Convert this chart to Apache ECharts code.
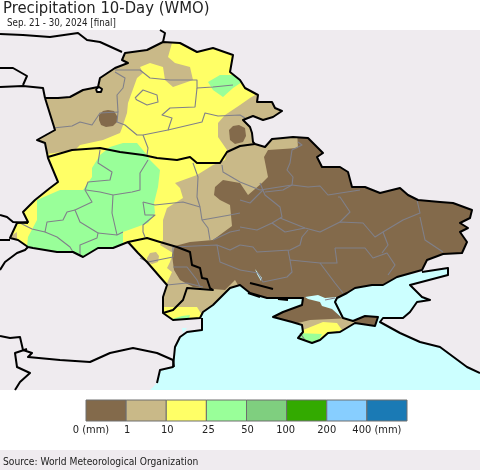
<!DOCTYPE html>
<html><head><meta charset="utf-8">
<style>html,body{margin:0;padding:0;background:#fff}#c{width:480px;height:470px}</style>
<script src="https://cdn.jsdelivr.net/npm/echarts@6/dist/echarts.min.js"></script>
</head><body><div id="c"></div>
<script>
const titleText='Precipitation 10-Day (WMO)';
const subtitleText='Sep. 21 - 30, 2024 [final]';
const sourceText='Source: World Meteorological Organization';
const binColors=['#836A4B','#C9B988','#FFFF66','#99FF99','#7FCF7F','#33AA00','#87CEFF','#1A7AB5'];
const tickLabels=['0 (mm)','1','10','25','50','100','200','400 (mm)'];
const tickShift=[5,1,1,2,1,-1,0,10];

const outlineNorth=[[45,98],[58,98],[70,97],[83,90],[98,87],[100,78],[115,68],[128,63],[122,60],[125,53],[147,50],[163,42],[180,43],[197,52],[213,48],[233,55],[230,72],[240,80],[245,88],[258,95],[257,102],[272,102],[275,108],[282,111],[273,117],[263,120],[253,116],[243,120],[250,127],[252,133],[253,142],[255,144],[265,147],[272,139],[283,138],[293,137],[308,138],[317,147],[323,153],[317,157],[322,167],[340,167],[348,172],[352,187],[365,187],[380,193],[400,188],[408,195],[418,200],[440,202],[453,203],[472,210],[470,218],[460,223],[468,228],[460,232],[467,242],[462,253],[443,254],[427,260],[422,270]];
const coastSouth=[[397,277],[383,285],[372,285],[355,288],[347,293],[337,298],[335,302],[343,318],[353,321],[365,316],[378,317],[375,326],[355,323],[340,332],[328,333],[320,340],[312,343],[298,338],[303,332],[302,325],[292,322],[273,317],[283,312],[302,305],[303,298],[283,298],[267,298],[250,293],[240,285],[230,288],[213,305],[203,312],[200,318]];
const outlineSouthWest=[[173,320],[163,313],[163,297],[167,285],[160,277],[147,262],[138,253],[128,242],[113,248],[98,248],[83,257],[73,252],[57,252],[33,248],[28,247],[18,240],[10,238],[17,223],[28,222],[23,212],[35,200],[50,188],[58,182],[48,158],[45,143],[37,140],[55,130]];
const seaWest=[[480,390],[150,390],[157,383],[160,370],[173,367],[175,347],[180,337],[187,332],[202,330],[202,318]];
const seaEast=[[422,272],[448,268],[448,275],[410,285],[422,297],[430,300],[417,302],[410,312],[403,318],[383,318],[380,322],[400,333],[420,342],[440,347],[467,367],[480,373]];

const zoneYellowMain=[[172,30],[172,43],[168,57],[175,63],[190,67],[193,80],[173,87],[165,80],[163,67],[150,63],[140,67],[143,73],[137,78],[128,103],[127,113],[122,128],[120,133],[103,140],[80,145],[75,150],[40,155],[40,165],[0,200],[0,260],[130,260],[165,290],[167,283],[172,272],[167,268],[170,262],[173,253],[160,245],[163,240],[163,220],[167,208],[183,198],[180,188],[175,183],[197,175],[213,165],[225,160],[227,150],[218,137],[218,123],[225,115],[240,105],[250,98],[257,94],[262,30]];
const zoneTanTip=[[5,240],[17,232],[17,242]];
const zoneTanMoldova=[[147,258],[150,253],[156,252],[159,256],[158,262],[152,264],[147,262]];
const zoneYellowSouth=[[155,307],[178,307],[197,307],[205,320],[165,325]];
const zoneGreenSouth=[[172,319],[182,316],[190,315],[187,325],[175,325]];
const zoneGreenMain=[[110,147],[123,143],[137,143],[147,155],[150,160],[160,170],[158,187],[154,203],[155,213],[148,223],[123,232],[123,245],[100,262],[27,255],[27,247],[28,237],[37,220],[37,200],[60,190],[83,190],[92,177],[92,168],[100,155]];
const zoneGreenBelarus=[[208,82],[220,75],[233,75],[245,80],[233,88],[223,97],[213,90]];
const zoneBrownMain=[[297,130],[298,148],[268,150],[264,157],[268,177],[262,183],[248,195],[240,183],[223,180],[215,187],[214,195],[220,200],[230,205],[232,226],[213,240],[190,242],[175,246],[172,255],[174,270],[180,280],[193,287],[213,289],[225,290],[235,280],[300,390],[480,390],[480,130]];
const zoneBrownWestBlob=[[99,115],[103,111],[108,110],[114,111],[117,116],[117,122],[113,126],[106,127],[101,125],[99,120]];
const zoneBrownEastBlob=[[229,130],[233,126],[239,125],[245,128],[246,136],[243,142],[235,144],[230,140]];
const zoneCrimeaTan=[[298,323],[310,320],[353,318],[355,325],[320,348],[292,345]];
const zoneCrimeaYellow=[[298,332],[323,322],[337,323],[342,330],[325,335],[312,348],[296,346]];
const zoneCrimeaGreen=[[296,333],[322,334],[315,348],[292,346]];
const waterSivash=[[305,297],[318,295],[325,298],[337,297],[335,303],[342,318],[332,309],[322,306],[320,302],[308,299]];
const waterEstuary=[[255,269],[262,278],[261,281],[257,274]];
const waterLake=[[182,328],[187,328],[183,333]];

const borderBelarusUkraine=[[48,157],[72,150],[100,148],[120,152],[143,155],[157,158],[177,160],[190,157],[197,163],[220,163],[227,152],[240,146],[255,144]];
const borderMoldova=[[128,242],[147,238],[160,242],[177,247],[190,252],[192,265],[200,268],[202,278],[207,279],[210,288],[213,290],[187,288],[183,300],[173,310],[163,313]];
const borderPoland=[[0,34],[23,35],[50,37],[78,33],[87,40],[100,42],[122,52]];
const borderLatvia=[[160,30],[165,33],[163,42]];
const borderSlovakiaNorth=[[0,87],[23,86],[43,88],[45,98]];
const borderCzech=[[0,68],[13,68],[27,76],[23,85]];
const borderRomaniaHungary=[[0,270],[5,262],[17,253],[25,250],[28,247]];
const borderHungaryA=[[0,240],[10,240]];
const borderHungaryB=[[0,215],[7,217],[13,222],[28,223]];
const borderBulgaria=[[0,336],[10,338],[20,337],[23,350],[32,353],[28,357],[60,360],[90,362],[110,353],[133,348],[157,353],[173,360],[174,367]];
const borderSerbia=[[27,349],[15,353],[17,367],[30,373],[20,382],[15,390]];
const spitA=[[250,283],[258,285],[273,289]];
const spitB=[[248,293],[260,297]];
const spitC=[[278,299],[288,300]];
const borderRing=[[96,89],[99,87],[102,89],[101,92],[97,92],[96,89]];

const regionLines=[
[[115,70],[140,70],[150,78],[170,80],[197,80],[197,88],[213,87],[233,85]],
[[115,72],[125,78],[123,88],[117,95],[118,112]],
[[53,128],[72,126],[80,122],[92,125],[100,113],[118,112],[117,122],[125,125],[137,135],[143,135],[168,130],[172,118],[162,115],[170,108],[195,107],[197,88]],
[[135,98],[143,90],[157,95],[158,102],[147,105],[137,100],[135,98]],
[[168,130],[202,122],[205,113],[218,116],[240,115],[245,118]],
[[143,135],[148,148],[147,155]],
[[100,150],[98,163],[112,172],[110,180],[88,182],[85,190],[92,202],[75,210],[80,222],[98,233],[97,238],[80,245],[80,255]],
[[148,160],[140,173],[140,190],[132,192],[113,195],[112,213],[117,235],[123,232]],
[[86,190],[100,192],[113,195]],
[[193,163],[198,177],[197,197],[200,207],[202,220],[208,228],[210,240]],
[[222,165],[223,172],[240,182],[260,190],[292,185],[293,177],[287,170],[290,163],[292,150],[302,145],[298,142]],
[[75,210],[67,212],[63,220],[47,222],[45,232],[32,229],[20,223]],
[[45,232],[57,237],[70,247],[73,252]],
[[98,233],[117,235]],
[[143,202],[155,205],[183,202],[200,207]],
[[143,202],[145,215],[155,215],[143,225],[143,232],[145,237]],
[[202,220],[230,215],[240,213]],
[[213,240],[230,232],[240,230]],
[[173,247],[217,245],[230,250],[240,245]],
[[217,245],[220,262],[240,270]],
[[140,258],[148,262],[173,257],[173,247]],
[[173,267],[187,267],[197,280],[200,287]],
[[167,285],[187,283],[203,287]],
[[292,185],[308,187],[320,186],[328,195],[347,192],[360,190]],
[[260,183],[265,195],[280,207],[282,217],[272,223],[257,230],[240,227]],
[[265,192],[283,190],[292,185]],
[[338,197],[340,197],[350,212],[340,222]],
[[280,218],[305,228],[320,232],[340,222],[363,223],[375,237],[383,232],[403,220],[420,213],[417,200]],
[[272,223],[285,232],[305,228]],
[[308,230],[302,237],[300,245],[290,250],[257,252],[253,247],[240,245]],
[[335,248],[337,263],[320,263],[290,260],[292,272],[287,277],[263,282],[258,273],[240,270]],
[[335,248],[365,248],[373,258],[387,253],[395,265],[388,275]],
[[383,232],[388,245],[382,253]],
[[420,217],[425,240],[443,252]],
[[320,263],[335,283],[343,293]],
[[288,250],[290,260]],
[[325,300],[335,298]],
[[240,200],[250,203],[263,190]],
[[300,333],[305,340]]
];

const outline=outlineNorth.concat(coastSouth,outlineSouthWest);
const seaPolygon=seaWest.concat(coastSouth.slice().reverse(),seaEast);
const mapFrame=[[0,30],[480,30],[480,390],[0,390],[0,30]];
const maskPolygon=mapFrame.concat(outline.slice().reverse(),[outline[outline.length-1]],[[0,30]]);

const cBrown=binColors[0],cTan=binColors[1],cYellow=binColors[2],cGreen=binColors[3];
const cLand='#EFEBEF',cSea='#CCFFFF',cRegion='#80808A';
const layers=[
 {p:mapFrame,f:cTan},
 {p:zoneYellowMain,f:cYellow},{p:zoneTanTip,f:cTan},{p:zoneYellowSouth,f:cYellow},{p:zoneGreenSouth,f:cGreen},
 {p:zoneGreenMain,f:cGreen},{p:zoneGreenBelarus,f:cGreen},
 {p:zoneBrownMain,f:cBrown},{p:zoneBrownWestBlob,f:cBrown},{p:zoneBrownEastBlob,f:cBrown},
 {p:zoneTanMoldova,f:cTan},
 {p:zoneCrimeaTan,f:cTan},{p:zoneCrimeaYellow,f:cYellow},{p:zoneCrimeaGreen,f:cGreen},
 {p:maskPolygon,f:cLand},{p:seaPolygon,f:cSea},
 {p:waterSivash,f:cSea},{p:waterEstuary,f:cSea},{p:waterLake,f:cSea},
 {p:borderRing,f:'#fff'}
];
const regionLayers=regionLines.map(p=>({l:p,s:cRegion,w:1.1}));
const blackLines=[outline.concat([outline[0]]),borderBelarusUkraine,borderMoldova,borderPoland,borderLatvia,borderSlovakiaNorth,borderCzech,borderRomaniaHungary,borderHungaryA,borderHungaryB,borderBulgaria,borderSerbia,seaWest.slice(2),seaEast,spitA,spitB,spitC,borderRing];
const blackLayers=blackLines.map(p=>({l:p,s:'#000',w:2}));
const allMarks=layers.concat(regionLayers,blackLayers);

const chart=echarts.init(document.getElementById('c'),null,{renderer:'canvas'});
function renderMark(params,api){
 const m=allMarks[params.dataIndex];
 if(m.p){return {type:'polygon',shape:{points:m.p.map(q=>api.coord(q))},style:{fill:m.f,stroke:null},silent:true};}
 return {type:'polyline',shape:{points:m.l.map(q=>api.coord(q))},style:{fill:null,stroke:m.s,lineWidth:m.w,lineJoin:'round'},silent:true};
}
function renderCell(params,api){
 const i=api.value(0);
 const a=api.coord([i,1]),b=api.coord([i+1,0]);
 return {type:'group',children:[
  {type:'rect',shape:{x:a[0],y:a[1],width:b[0]-a[0],height:b[1]-a[1]},style:{fill:binColors[i],stroke:'#6e6e6e',lineWidth:1}},
  {type:'text',style:{text:tickLabels[i],x:a[0]+tickShift[i],y:b[1]+9,fill:'#222',font:'11px "DejaVu Sans Condensed","DejaVu Sans"',align:'center',verticalAlign:'middle'}}
 ]};
}
chart.setOption({
 animation:false,backgroundColor:'#fff',
 grid:[{left:0,top:0,width:480,height:470},{left:86,top:400,width:321,height:21}],
 xAxis:[{type:'value',gridIndex:0,min:0,max:480,show:false},{type:'value',gridIndex:1,min:0,max:8,show:false}],
 yAxis:[{type:'value',gridIndex:0,min:0,max:470,inverse:true,show:false},{type:'value',gridIndex:1,min:0,max:1,show:false}],
 graphic:[
  {type:'rect',left:0,top:450,shape:{width:480,height:20},style:{fill:cLand},z:0},
  {type:'text',left:3,top:0,style:{text:titleText,font:'16.5px "DejaVu Sans Condensed","DejaVu Sans"',fill:'#222'}},
  {type:'text',left:7,top:18,style:{text:subtitleText,font:'9.7px "DejaVu Sans Condensed","DejaVu Sans"',fill:'#222'}},
  {type:'text',left:3,top:457,style:{text:sourceText,font:'10.2px "DejaVu Sans Condensed","DejaVu Sans"',fill:'#222'}}
 ],
 series:[
  {type:'custom',xAxisIndex:0,yAxisIndex:0,clip:true,silent:true,renderItem:renderMark,data:allMarks.map((m,i)=>[i])},
  {type:'custom',xAxisIndex:1,yAxisIndex:1,clip:false,silent:true,renderItem:renderCell,data:binColors.map((c,i)=>[i])}
 ]
});
</script></body></html>
